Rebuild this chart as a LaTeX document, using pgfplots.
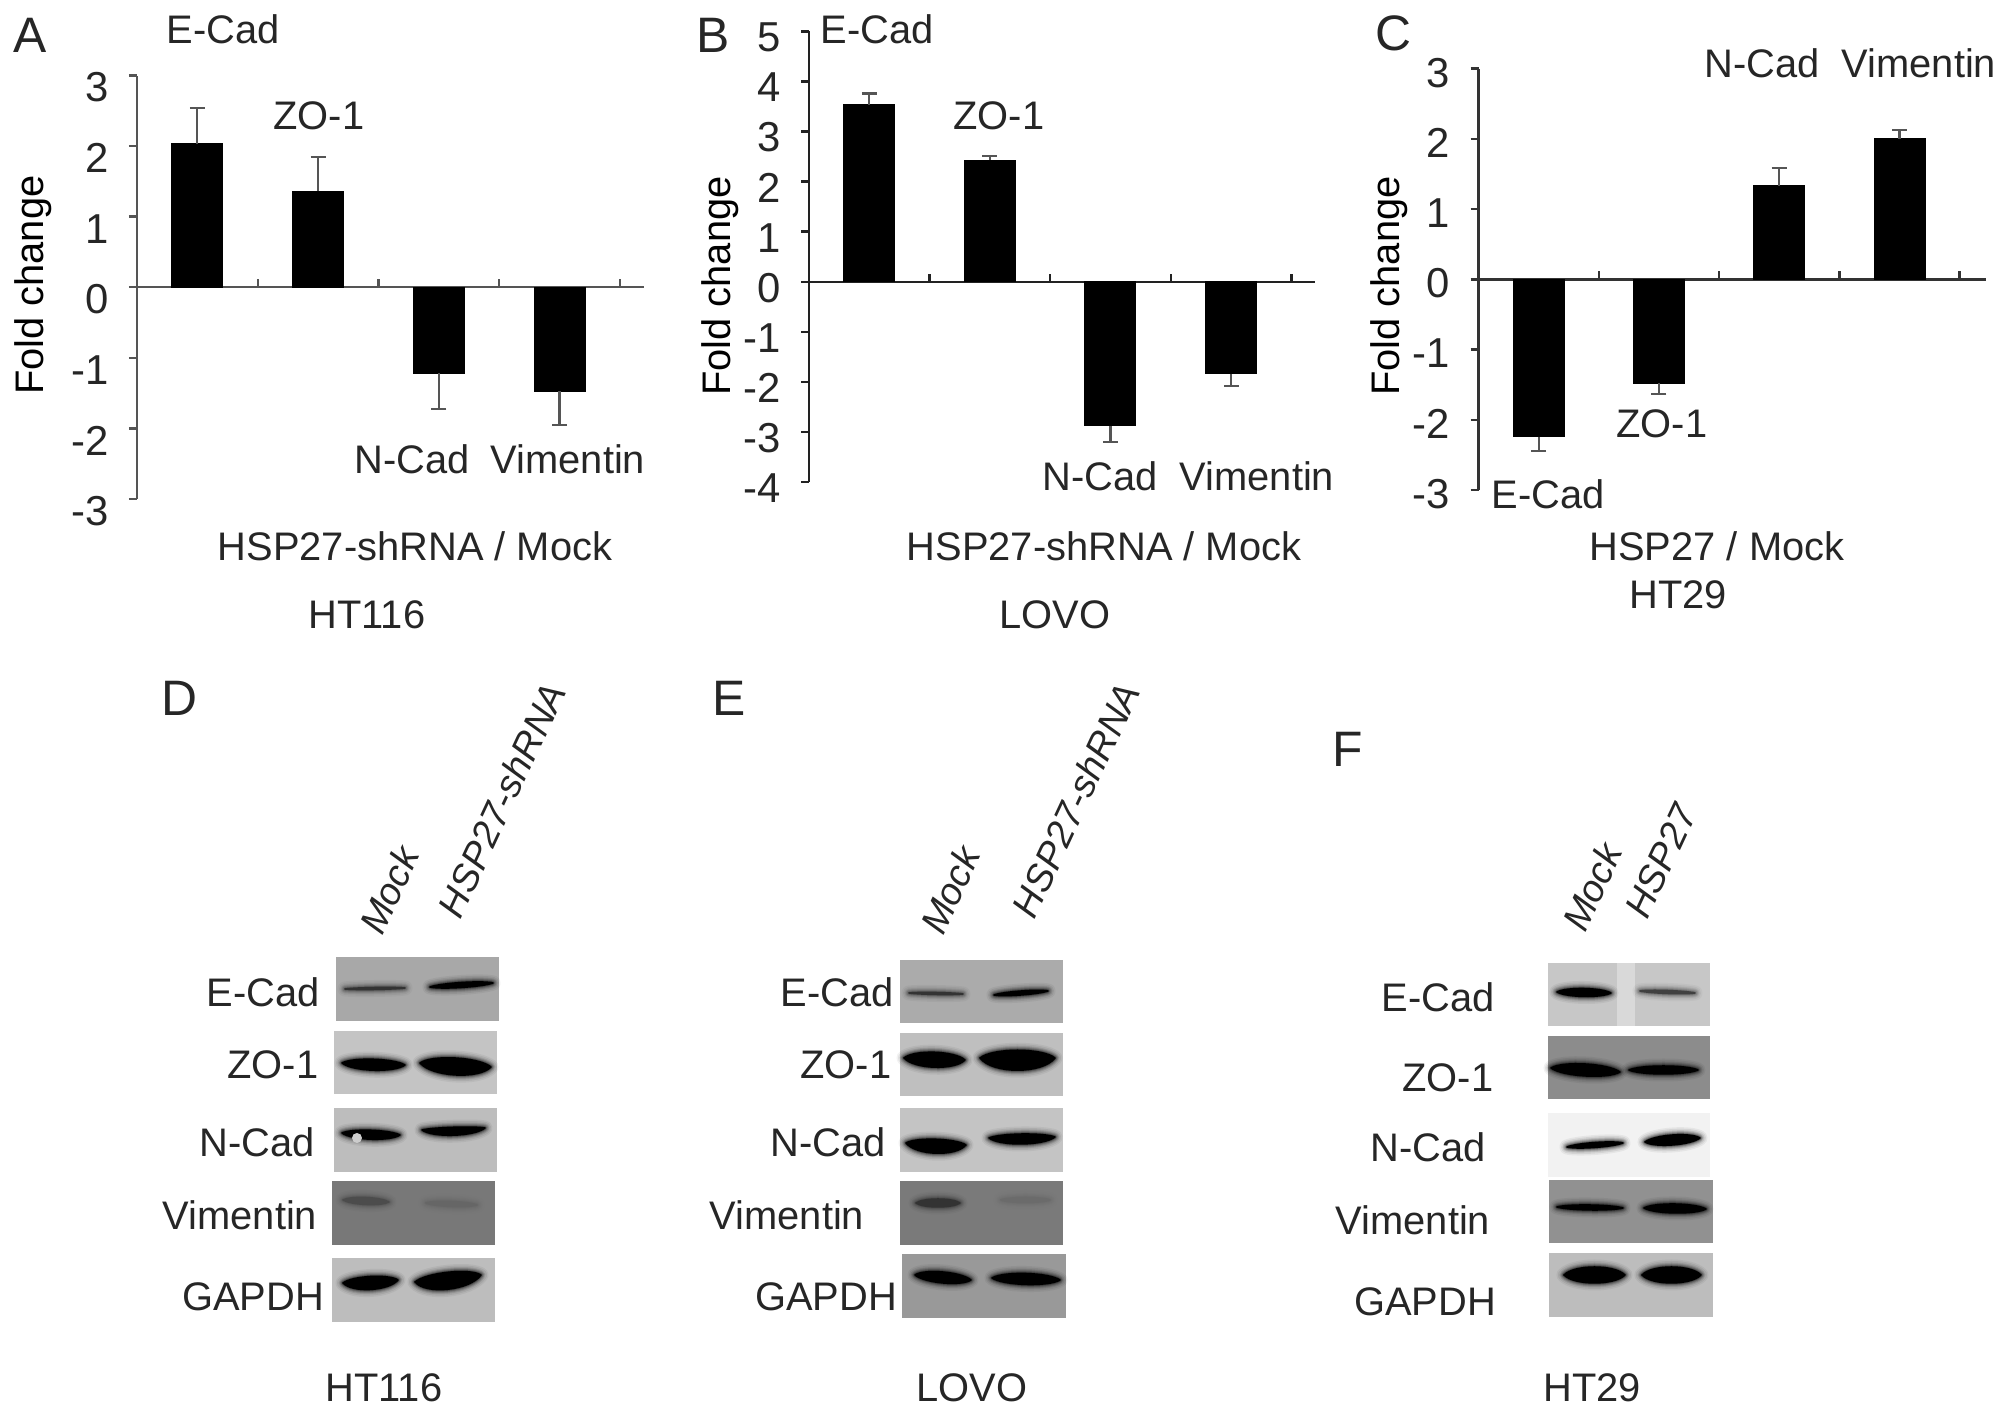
\documentclass[border=0pt]{standalone}
\usepackage{fontspec}
\setmainfont{Liberation Sans}
\usepackage{pgfplots}
\pgfplotsset{compat=1.18}
\newcommand\fs{\fontsize{20}{22}\selectfont}
\newcommand\ft{\fontsize{21}{23}\selectfont}
\newcommand\fl{\fontsize{25}{27}\selectfont}
\definecolor{axA}{HTML}{555555}
\definecolor{axB}{HTML}{222222}
\definecolor{axC}{HTML}{333333}
\pgfplotsset{
  panel/.style={
    scale only axis, anchor=south west,
    axis y line=left, axis x line=middle,
    hide obscured x ticks=false, hide obscured y ticks=false,
    axis line style={-, line width=1.2bp, color=#1},
    every tick/.style={line width=1.2bp, color=#1},
    major tick length=4bp,
    xtick align=inside, ytick align=outside,
    xmin=0, xtick={1,2,3,4}, xticklabels={},
    tick label style={font=\ft, text=black!85},
    yticklabel style={anchor=east, inner sep=0pt},
    clip=false,
  },
  bars/.style={
    ybar, bar shift=0pt, bar width=25.5bp, fill=black, draw=black, line width=0pt,
    error bars/.cd, y dir=#1, y explicit, error mark=-,
    error mark options={mark size=3.75bp, line width=1.1bp, color=axA, rotate=90},
    error bar style={line width=1.1bp, color=axA},
  },
}
\newcommand\band[7][black]{%
\foreach \w/\o in {15/.05,12/.07,9/.10,7/.14,5/.2,3/.3,1.5/1}{%
 \draw[#1,fill=#1,line join=round,line width=\w*0.5bp,opacity=\o]
 (#2,#3) .. controls ({(5*#2+#4)/6},{(5*#3+#5)/6+#7-2*#6/3}) and ({(#2+5*#4)/6},{(#3+5*#5)/6+#7-2*#6/3}) .. (#4,#5)
 .. controls ({(#2+5*#4)/6},{(#3+5*#5)/6+#7+2*#6/3}) and ({(5*#2+#4)/6},{(5*#3+#5)/6+#7+2*#6/3}) .. cycle;
}}
\newcommand\pnl[5]{\fill[#5] (#1,#2) rectangle (#3,#4);}
\begin{document}
\begin{tikzpicture}
\path[use as bounding box] (0,0) rectangle (1004bp,-708bp);

% ---------- A
\begin{axis}[panel=axA, at={(68.5bp,-249.5bp)}, width=253.5bp, height=211.75bp,
  xmax=4.2, ymin=-3, ymax=3, ytick={-3,-2,-1,0,1,2,3},
  yticklabels={-3,-2,-1,0,1,2,3},
  yticklabel style={yshift=-6bp, xshift=-10bp},
  ylabel={Fold change}, ylabel style={font=\fs, at={(axis description cs:-0.205,0.505)}, anchor=center}]
\addplot[bars=plus] coordinates {(0.5,2.03) +- (0,0.51) (1.5,1.36) +- (0,0.49)};
\addplot[bars=minus] coordinates {(2.5,-1.22) +- (0,0.51) (3.5,-1.47) +- (0,0.48)};
\end{axis}
% ---------- B
\begin{axis}[panel=axB, at={(404.5bp,-241bp)}, width=253bp, height=225.3bp,
  xmax=4.196, ymin=-4, ymax=5, ytick={-4,-3,-2,-1,0,1,2,3,4,5},
  yticklabels={-4,-3,-2,-1,0,1,2,3,4,5},
  yticklabel style={yshift=-3bp, xshift=-10bp},
  ylabel={Fold change}, ylabel style={font=\fs, at={(axis description cs:-0.175,0.435)}, anchor=center}]
\addplot[bars=plus] coordinates {(0.5,3.54) +- (0,0.22) (1.5,2.43) +- (0,0.08)};
\addplot[bars=minus] coordinates {(2.5,-2.88) +- (0,0.32) (3.5,-1.84) +- (0,0.25)};
\end{axis}
% ---------- C
\begin{axis}[panel=axC, at={(739.25bp,-245bp)}, width=253.5bp, height=210.7bp,
  xmax=4.215, ymin=-3, ymax=3, ytick={-3,-2,-1,0,1,2,3},
  yticklabels={-3,-2,-1,0,1,2,3},
  yticklabel style={yshift=-2bp, xshift=-10bp},
  ylabel={Fold change}, ylabel style={font=\fs, at={(axis description cs:-0.177,0.484)}, anchor=center}]
\addplot[bars=minus] coordinates {(0.5,-2.24) +- (0,0.21) (1.5,-1.48) +- (0,0.15)};
\addplot[bars=plus] coordinates {(2.5,1.33) +- (0,0.25) (3.5,2.0) +- (0,0.13)};
\end{axis}

\begin{scope}[x=0.5bp,y=-0.5bp]
\tikzset{t/.style={font=\fs,text=black!85,inner sep=0pt}, L/.style={font=\fl,text=black!85,inner sep=0pt}}
% panel letters
\node[L] at (30,35) {A}; \node[L] at (713,35) {B}; \node[L] at (1394,33) {C};
\node[L] at (179,698) {D}; \node[L] at (729,698) {E}; \node[L] at (1348,749) {F};
% chart A text
\node[t] at (223,29) {E-Cad}; \node[t] at (319,116) {ZO-1};
\node[t] at (412,459) {N-Cad}; \node[t] at (568,459) {Vimentin};
\node[t] at (415,546) {HSP27-shRNA / Mock}; \node[t] at (367,615) {HT116};
% chart B text
\node[t] at (877,29) {E-Cad}; \node[t] at (999,116) {ZO-1};
\node[t] at (1100,476) {N-Cad}; \node[t] at (1257,476) {Vimentin};
\node[t] at (1104,546) {HSP27-shRNA / Mock}; \node[t] at (1055,615) {LOVO};
% chart C text
\node[t] at (1762,63) {N-Cad}; \node[t] at (1919,63) {Vimentin};
\node[t] at (1662,424) {ZO-1}; \node[t] at (1548,494) {E-Cad};
\node[t] at (1717,546) {HSP27 / Mock}; \node[t] at (1678,595) {HT29};
% ------- blot D
\pnl{336}{957}{499}{1021}{black!34}
\pnl{334}{1031}{497}{1094}{black!23}
\pnl{334}{1108}{497}{1172}{black!26}
\pnl{332}{1181}{495}{1245}{black!53}
\pnl{332}{1258}{495}{1322}{black!26}
\band[black!80]{345}{989}{405}{988}{2}{0}
\band{430}{987}{493}{983}{5}{0}
\band{342}{1063}{405}{1065}{11}{1}
\band{420}{1063}{491}{1067}{17}{2}
\band{342}{1133}{400}{1135}{9}{1}
\fill[black!20] (357,1138) circle (5);
\band{422}{1130}{485}{1128}{8}{3}
\band[black!70]{343}{1200}{389}{1202}{7}{0}
\band[black!60]{426}{1203}{477}{1205}{5}{0}
\band{343}{1283}{398}{1280}{13}{2}
\band{415}{1282}{481}{1275}{17}{3}
% ------- blot E
\pnl{900}{960}{1063}{1023}{black!33}
\pnl{900}{1033}{1063}{1096}{black!25}
\pnl{900}{1108}{1063}{1172}{black!23}
\pnl{900}{1181}{1063}{1245}{black!52}
\pnl{902}{1254}{1066}{1318}{black!40}
\band[black!80]{909}{993}{963}{994}{2}{0}
\band{994}{995}{1048}{991}{4}{0}
\band{904}{1058}{965}{1060}{15}{1}
\band{980}{1058}{1055}{1058}{20}{3}
\band{906}{1143}{966}{1145}{14}{3}
\band{989}{1138}{1055}{1137}{10}{2}
\band[black!80]{916}{1203}{960}{1203}{8}{0}
\band[black!58]{1001}{1200}{1050}{1200}{5}{0}
\band{915}{1275}{971}{1280}{11}{0}
\band{992}{1278}{1060}{1280}{11}{0}
% ------- blot F
\pnl{1548}{963}{1710}{1026}{black!22}
\fill[black!15] (1617,963) rectangle (1635,1026);
\pnl{1548}{1036}{1710}{1099}{black!45}
\pnl{1548}{1113}{1710}{1177}{black!5}
\pnl{1549}{1180}{1713}{1243}{black!43}
\pnl{1549}{1253}{1713}{1317}{black!26}
\band{1557}{992}{1611}{993}{8}{0}
\band[black!75]{1640}{991}{1695}{993}{3}{0}
\band{1551}{1068}{1620}{1072}{12}{0}
\band{1629}{1070}{1698}{1070}{8}{0}
\band{1567}{1147}{1623}{1143}{5}{0}
\band{1645}{1142}{1700}{1138}{10}{0}
\band{1557}{1207}{1623}{1208}{5}{0}
\band{1644}{1208}{1706}{1209}{9}{0}
\band{1564}{1275}{1625}{1275}{16}{0}
\band{1642}{1275}{1701}{1275}{16}{0}
% blot labels
\node[t] at (263,992) {E-Cad}; \node[t] at (273,1065) {ZO-1}; \node[t] at (257,1142) {N-Cad};
\node[t] at (240,1215) {Vimentin}; \node[t] at (253,1297) {GAPDH};
\node[t] at (837,992) {E-Cad}; \node[t] at (846,1065) {ZO-1}; \node[t] at (828,1142) {N-Cad};
\node[t] at (787,1215) {Vimentin}; \node[t] at (826,1297) {GAPDH};
\node[t] at (1438,997) {E-Cad}; \node[t] at (1448,1078) {ZO-1}; \node[t] at (1428,1147) {N-Cad};
\node[t] at (1413,1220) {Vimentin}; \node[t] at (1425,1302) {GAPDH};
% lane labels
\tikzset{r/.style={t,font=\fontsize{19}{21}\selectfont\itshape,rotate=65}}
\node[r] at (389,890) {Mock}; \node[r] at (502,800) {HSP27-shRNA};
\node[r] at (950,890) {Mock}; \node[r] at (1076,800) {HSP27-shRNA};
\node[r] at (1592,887) {Mock}; \node[r] at (1661,861) {HSP27};
% bottom
\node[t] at (384,1388) {HT116}; \node[t] at (972,1388) {LOVO}; \node[t] at (1592,1388) {HT29};
\end{scope}
\end{tikzpicture}
\end{document}
